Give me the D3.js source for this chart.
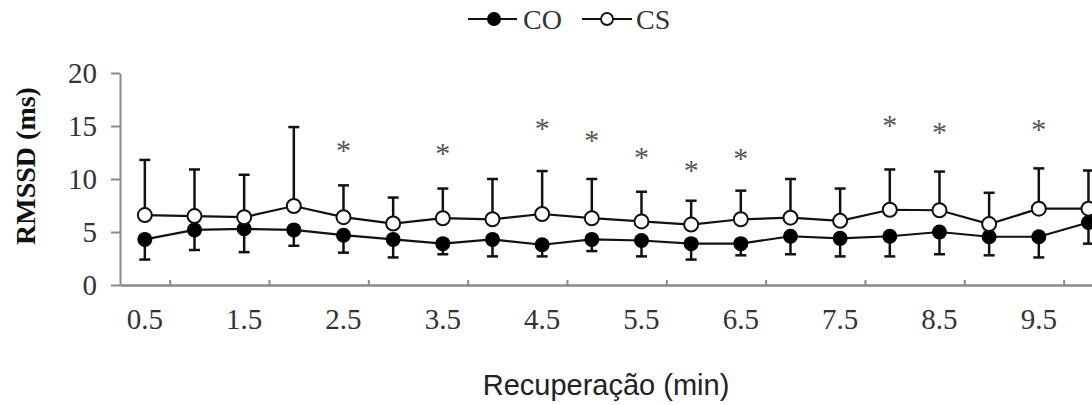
<!DOCTYPE html>
<html><head><meta charset="utf-8">
<script src="https://cdn.jsdelivr.net/npm/d3@7"></script>
<style>
html,body{margin:0;padding:0;background:#fff;overflow:hidden}
svg{display:block}
</style></head>
<body>
<script>
const categories = ["0.5","1.0","1.5","2.0","2.5","3.0","3.5","4.0","4.5","5.0","5.5","6.0","6.5","7.0","7.5","8.0","8.5","9.0","9.5","10.0"];
const tickLabels = ["0.5","1.5","2.5","3.5","4.5","5.5","6.5","7.5","8.5","9.5"];
const coMean = [4.3,5.2,5.3,5.2,4.7,4.3,3.9,4.3,3.8,4.3,4.2,3.9,3.9,4.6,4.4,4.6,5.0,4.55,4.55,5.9];
const coSD   = [1.9,1.9,2.2,1.5,1.65,1.7,1.0,1.6,1.1,1.1,1.5,1.5,1.1,1.7,1.7,1.9,2.1,1.75,1.95,2.0];
const csMean = [6.6,6.5,6.4,7.45,6.4,5.8,6.3,6.2,6.7,6.3,6.0,5.7,6.2,6.35,6.05,7.1,7.05,5.75,7.2,7.2];
const csSD   = [5.2,4.4,4.0,7.45,3.0,2.45,2.8,3.8,4.05,3.7,2.8,2.25,2.7,3.65,3.05,3.8,3.65,2.95,3.8,3.6];
const starCats   = ["2.5","3.5","4.5","5.0","5.5","6.0","6.5","8.0","8.5","9.5"];
const starLevels = [13.2,12.9,15.3,14.15,12.55,11.3,12.45,15.6,14.9,15.2];
const yTicks = [0,5,10,15,20];

const W = 1092, H = 405;
const svg = d3.select("body").append("svg").attr("width", W).attr("height", H);

const x = d3.scaleBand().domain(categories).range([120, 1113.3]).padding(0);
const xb = d3.scaleLinear().domain([0, categories.length]).range([120, 1113.3]);
const y = d3.scaleLinear().domain([0, 20]).range([285, 73]);
const cx = c => x(c) + x.bandwidth() / 2;

const axisColor = "#8a8a8a";
const serif = "'Liberation Serif','Times New Roman',serif";

// Y axis
const gy = svg.append("g").attr("transform", "translate(120,0)")
  .call(d3.axisLeft(y).tickValues(yTicks).tickSize(9).tickPadding(14).tickSizeOuter(0));
gy.select(".domain").attr("stroke", axisColor).attr("stroke-width", 2);
gy.selectAll(".tick line").attr("stroke", axisColor).attr("stroke-width", 2);
gy.selectAll(".tick text").attr("font-family", serif).attr("font-size", 29).attr("fill", "#333");

// X axis line + inner ticks
const gx = svg.append("g").attr("transform", "translate(0,285)")
  .call(d3.axisBottom(xb).tickValues(d3.range(1, categories.length, 2)).tickSize(-5).tickSizeOuter(0).tickFormat(""));
gx.select(".domain").attr("stroke", axisColor).attr("stroke-width", 2.5);
gx.selectAll(".tick line").attr("stroke", axisColor).attr("stroke-width", 2);

// X labels
const gxl = svg.append("g").attr("transform", "translate(0,285)")
  .call(d3.axisBottom(x).tickValues(tickLabels).tickSize(0).tickPadding(23));
gxl.select(".domain").remove();
gxl.selectAll(".tick text").attr("font-family", serif).attr("font-size", 29).attr("fill", "#333");

// Axis titles
svg.append("text").attr("transform", "translate(35,166) rotate(-90)")
  .attr("text-anchor", "middle").attr("font-family", serif).attr("font-weight", "bold")
  .attr("font-size", 28).attr("fill", "#111").text("RMSSD (ms)");
svg.append("text").attr("x", 606).attr("y", 395).attr("text-anchor", "middle")
  .attr("font-family", "'Liberation Sans',Arial,sans-serif").attr("font-size", 29)
  .attr("fill", "#222").text("Recuperação (min)");

// Error bars
const capW = 11;
const bars = svg.append("g").attr("stroke", "#111").attr("stroke-width", 2.5);
categories.forEach((c, i) => {
  const X = cx(c);
  bars.append("line").attr("x1", X).attr("x2", X).attr("y1", y(csMean[i])).attr("y2", y(csMean[i] + csSD[i]));
  bars.append("line").attr("x1", X - capW/2).attr("x2", X + capW/2).attr("y1", y(csMean[i] + csSD[i])).attr("y2", y(csMean[i] + csSD[i]));
  bars.append("line").attr("x1", X).attr("x2", X).attr("y1", y(coMean[i])).attr("y2", y(coMean[i] - coSD[i]));
  bars.append("line").attr("x1", X - capW/2).attr("x2", X + capW/2).attr("y1", y(coMean[i] - coSD[i])).attr("y2", y(coMean[i] - coSD[i]));
});

// Lines
const line = d3.line().x(d => cx(d.c)).y(d => y(d.v));
svg.append("path").datum(categories.map((c, i) => ({c, v: csMean[i]})))
  .attr("d", line).attr("fill", "none").attr("stroke", "#111").attr("stroke-width", 2.2);
svg.append("path").datum(categories.map((c, i) => ({c, v: coMean[i]})))
  .attr("d", line).attr("fill", "none").attr("stroke", "#111").attr("stroke-width", 2.2);

// Markers
svg.append("g").selectAll("circle").data(categories).join("circle")
  .attr("cx", c => cx(c)).attr("cy", (c, i) => y(coMean[i])).attr("r", 7.5).attr("fill", "#000");
svg.append("g").selectAll("circle").data(categories).join("circle")
  .attr("cx", c => cx(c)).attr("cy", (c, i) => y(csMean[i])).attr("r", 7).attr("fill", "#fff")
  .attr("stroke", "#111").attr("stroke-width", 2);

// Significance stars
svg.append("g").selectAll("text").data(starCats).join("text")
  .attr("x", c => cx(c)).attr("y", (c, i) => y(starLevels[i]) + 15)
  .attr("text-anchor", "middle").attr("font-family", serif).attr("font-size", 30)
  .attr("fill", "#555").text("*");

// Legend
const lg = svg.append("g");
lg.append("line").attr("x1", 468).attr("x2", 517).attr("y1", 19).attr("y2", 19).attr("stroke", "#111").attr("stroke-width", 2.2);
lg.append("circle").attr("cx", 494).attr("cy", 19).attr("r", 7).attr("fill", "#000");
lg.append("text").attr("x", 523).attr("y", 29).attr("font-family", serif).attr("font-size", 28).attr("fill", "#333").text("CO");
lg.append("line").attr("x1", 582).attr("x2", 632).attr("y1", 19).attr("y2", 19).attr("stroke", "#111").attr("stroke-width", 2.2);
lg.append("circle").attr("cx", 607).attr("cy", 19).attr("r", 6).attr("fill", "#fff").attr("stroke", "#111").attr("stroke-width", 1.8);
lg.append("text").attr("x", 636).attr("y", 29).attr("font-family", serif).attr("font-size", 28).attr("fill", "#333").text("CS");
</script>
</body></html>
